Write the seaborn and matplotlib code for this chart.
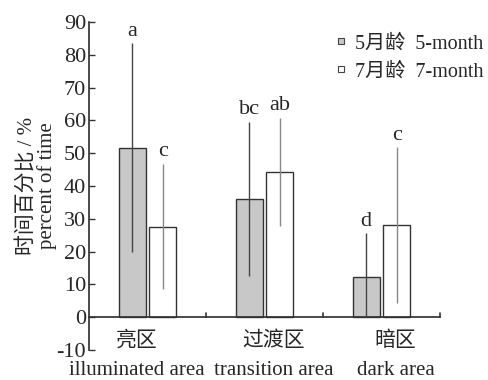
import matplotlib
matplotlib.use("Agg")
import matplotlib.pyplot as plt
import seaborn as sns
import pandas as pd
import numpy as np
from matplotlib.lines import Line2D

categories_cn = ["亮区", "过渡区", "暗区"]
categories_en = ["illuminated area", "transition area", "dark area"]
groups = ["5月龄  5-month", "7月龄  7-month"]
means_5 = [51.7, 36.0, 12.2]
means_7 = [27.6, 44.3, 28.0]
err_5 = [31.8, 23.5, 13.4]
err_7 = [19.1, 16.5, 23.8]
letters_5 = ["a", "bc", "d"]
letters_7 = ["c", "ab", "c"]
yticks = list(range(-10, 91, 10))

sns.set_theme(style="white")
fam = ["Liberation Serif", "Noto Sans CJK SC"]
plt.rcParams["font.family"] = fam

df = pd.DataFrame({
    "cat": categories_en * 2,
    "grp": [groups[0]] * 3 + [groups[1]] * 3,
    "val": means_5 + means_7,
})

fig = plt.figure(figsize=(4.88, 3.80), dpi=100)
ax = fig.add_axes([89 / 488, 1 - 350 / 380, (440 - 89) / 488, (350 - 22) / 380])

width = 0.527
sns.barplot(data=df, x="cat", y="val", hue="grp", order=categories_en, hue_order=groups,
            palette=["#c8c8c8", "#ffffff"], width=width, gap=0.127,
            edgecolor="#333333", linewidth=1.0, errorbar=None, ax=ax, legend=False)

off = width / 4
x = np.arange(len(categories_en))
for xs, m, e, col, lets in [(x - off, means_5, err_5, "#444444", letters_5),
                            (x + off, means_7, err_7, "#888888", letters_7)]:
    m = np.array(m); e = np.array(e)
    lower = np.minimum(e, m)
    ax.errorbar(xs, m, yerr=[lower, e], fmt="none", ecolor=col, elinewidth=1.0,
                capsize=0, zorder=3)
    for xi, top, l in zip(xs, m + e, lets):
        ax.text(xi, top + 0.8, l, ha="center", va="bottom", fontsize=16, family=fam)

ax.set_xlim(-0.5, 2.5)
ax.set_ylim(-10, 90)
ax.set_yticks(yticks)
ax.set_yticklabels([str(t) for t in yticks], fontsize=16)
ax.set_xticks(x)
ax.set_xticklabels([])
ax.set_xlabel("")
ax.tick_params(axis="x", length=0)
ax.tick_params(axis="y", direction="in", length=4, width=1, color="#333333", pad=2, left=True)

# category labels (Chinese above, English below)
label_shift = [-0.09, 0.08, 0.12]
for xi, s, cn, en in zip(x, label_shift, categories_cn, categories_en):
    ax.text(xi + s, -7.2, cn, ha="center", va="center", fontsize=15, family=fam, clip_on=False)
    ax.text(xi + s, -16.3, en, ha="center", va="center", fontsize=15, family=fam, clip_on=False)

for s in ["top", "right"]:
    ax.spines[s].set_visible(False)
ax.spines["left"].set_color("#333333")
ax.spines["bottom"].set_position(("data", 0))
ax.spines["bottom"].set_color("#333333")

# boundary ticks on the zero line
for b in [0.5, 1.5, 2.5]:
    ax.plot([b, b], [0, 1.3], color="#333333", lw=1.2, clip_on=False)

ax.set_ylabel("时间百分比 / %\npercent of time", fontsize=15, linespacing=1.0, labelpad=0)

handles = [Line2D([], [], marker="s", ls="none", markersize=5, markerfacecolor="#c8c8c8",
                  markeredgecolor="#444444", markeredgewidth=0.8),
           Line2D([], [], marker="s", ls="none", markersize=5, markerfacecolor="#ffffff",
                  markeredgecolor="#444444", markeredgewidth=0.8)]
ax.legend(handles, groups, loc="upper right", bbox_to_anchor=(1.175, 1.018), frameon=False,
          handlelength=0.6, handletextpad=0.4, labelspacing=0.45,
          prop={"family": fam, "size": 14.5})

fig.savefig("out.png", dpi=100)
